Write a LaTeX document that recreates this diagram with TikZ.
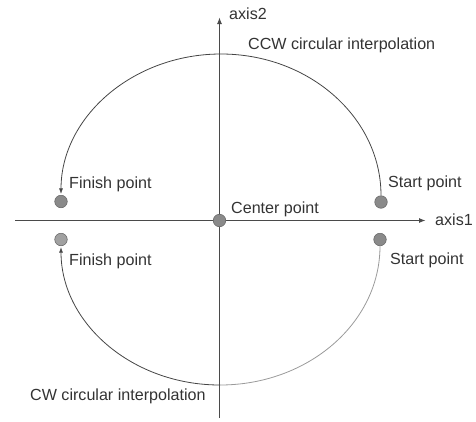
\documentclass[tikz,border=0pt]{standalone}
\usepackage{fontspec}
\setmainfont{Liberation Sans}
\usetikzlibrary{arrows.meta}
\definecolor{axisgray}{HTML}{4A4A4A}
\definecolor{arcdark}{HTML}{454545}
\definecolor{arclight}{HTML}{9A9A9A}
\definecolor{txtgray}{HTML}{333333}
\definecolor{dotfill}{HTML}{8A8A8A}
\definecolor{dotedge}{HTML}{6A6A6A}
\begin{document}
\begin{tikzpicture}[x=1pt,y=-1pt,
  axisline/.style={draw=axisgray,line width=1.4pt,-{Latex[length=7pt,width=5pt]}},
  arcline/.style={draw=arcdark,line width=0.8pt},
  arctip/.style={-{Latex[length=5.5pt,width=4pt]},shorten >=1pt},
  ptdot/.style={circle,draw=dotedge,fill=dotfill,line width=0.6pt,minimum size=12.5pt,inner sep=0pt},
  lbl/.style={anchor=base west,text=txtgray,font=\fontsize{16.1}{19}\selectfont,inner sep=0pt}]
\useasboundingbox (0,0) rectangle (476,421);
% axis end coordinates
\coordinate (xL) at (15,220.5);
\coordinate (xR) at (426,220.5);
\coordinate (yB) at (219.5,418);
\coordinate (yT) at (219.5,17);
\draw[axisline] (yB) -- (yT);
\draw[axisline] (xL) -- (xR);
% points
\node[ptdot] (cen) at (219.5,220.5) {};
\node[ptdot] (sU) at (381,202) {};
\node[ptdot] (fU) at (61,201.5) {};
\node[ptdot] (sL) at (380,239.5) {};
\node[ptdot,fill=dotfill!80!white] (fL) at (61,239.5) {};
% arc apexes
\coordinate (topC) at (221,54);
\coordinate (botC) at (220,385);
% upper CCW arc
\draw[arcline,arctip] (sU.north) .. controls +(0,-78) and +(88,0) .. (topC)
   .. controls +(-88,0) and +(0,-78) .. (fU.north);
% lower CW arc
\draw[draw=arclight,line width=0.8pt] (sL.south) .. controls +(0,77) and +(88,0) .. (botC);
\draw[arcline,arctip] (botC) .. controls +(-88,0) and +(0,77) .. (fL.south);
% labels
\node[lbl] (ax2) at (229,19) {axis2};
\node[lbl] (ax1) at (435,225) {axis1};
\node[lbl] (ccw) at (248,49) {CCW circular interpolation};
\node[lbl] (cw) at (30,400) {CW circular interpolation};
\node[lbl] (fUl) at (69,188) {Finish point};
\node[lbl] (sUl) at (388,187) {Start point};
\node[lbl] (cenl) at (231,213) {Center point};
\node[lbl] (fLl) at (69,265) {Finish point};
\node[lbl] (sLl) at (390,264) {Start point};
\end{tikzpicture}
\end{document}
